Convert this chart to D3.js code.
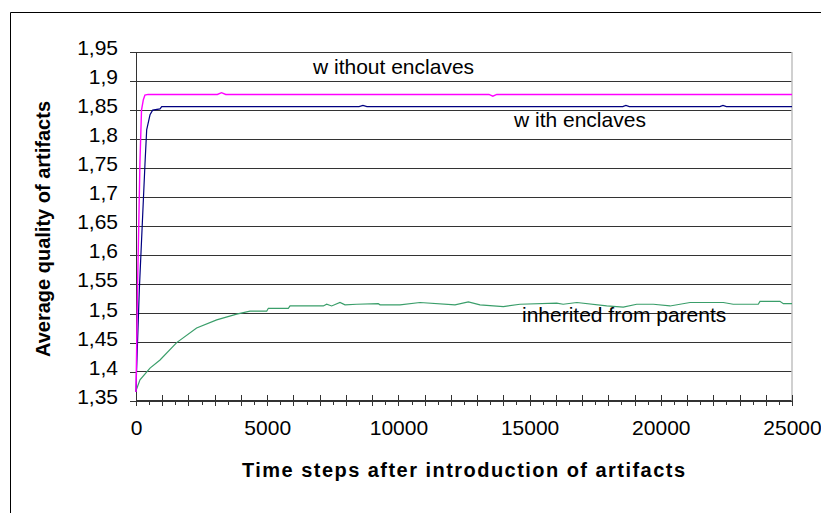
<!DOCTYPE html>
<html>
<head>
<meta charset="utf-8">
<script src="https://cdn.jsdelivr.net/npm/d3@7"></script>
<style>
  body { margin: 0; background: #fff; }
  svg { display: block; font-family: Arial, "Liberation Sans", sans-serif; }
  .tick text { font-size: 21px; fill: #000; }
</style>
</head>
<body>
<div class="chart"></div>
<script>
// values
var yTicks = [1.35, 1.4, 1.45, 1.5, 1.55, 1.6, 1.65, 1.7, 1.75, 1.8, 1.85, 1.9, 1.95];
var xLabelTicks = [0, 5000, 10000, 15000, 20000, 25000];

var timeWithout = [0, 60, 100, 150, 210, 280, 340, 460, 3100, 3260, 3420, 13450, 13600, 13750, 25000];
var valWithout = [1.365, 1.55, 1.64, 1.76, 1.85, 1.868, 1.876, 1.877, 1.877, 1.880, 1.877, 1.877, 1.874, 1.877, 1.877];

var timeWith = [0, 20, 126, 343, 407, 534, 636, 915, 980, 8500, 8650, 8800, 18550, 18670, 18800, 22250, 22370, 22500, 25000];
var valWith = [1.365, 1.40, 1.54, 1.758, 1.816, 1.842, 1.850, 1.852, 1.856, 1.856, 1.858, 1.856, 1.856, 1.858, 1.856, 1.856, 1.858, 1.856, 1.856];

var timeParents = [0, 152, 534, 915, 1550, 2310, 3075, 3836, 4345, 4980, 5043, 5805, 5870, 7140, 7266, 7456, 7774, 7965, 8410, 9235, 9300,
  10060, 10823, 12157, 12665, 13110, 14000, 14634, 16032, 16280, 16800, 17938, 18570, 19080, 19716, 20350, 21113, 22383, 22760, 23714, 23780, 24540, 24670, 25000];
var valParents = [1.367, 1.386, 1.406, 1.420, 1.450, 1.475, 1.489, 1.499, 1.504, 1.504, 1.509, 1.509, 1.513, 1.513, 1.516, 1.513, 1.519, 1.515, 1.516, 1.517, 1.515,
  1.515, 1.519, 1.515, 1.520, 1.515, 1.512, 1.516, 1.518, 1.516, 1.519, 1.513, 1.511, 1.516, 1.516, 1.513, 1.519, 1.519, 1.516, 1.516, 1.521, 1.521, 1.517, 1.517];

var seriesNames = ["w ithout enclaves", "w ith enclaves", "inherited from parents"];

var W = 821, H = 515;
var margin = {top: 52, right: 29, bottom: 114.3, left: 136};
var width = W - margin.left - margin.right,
    height = H - margin.top - margin.bottom;

var svg = d3.select(".chart").append("svg")
    .attr("width", W)
    .attr("height", H);

// outer frame (left and top edges only show)
svg.append("path")
    .attr("d", "M10.5,513V12.5H821")
    .attr("fill", "none")
    .attr("stroke", "#000")
    .attr("stroke-width", 1);

var g = svg.append("g")
    .attr("transform", "translate(" + margin.left + "," + margin.top + ")");

var xScale = d3.scaleLinear().domain([0, 25000]).range([0, width]);
var yScale = d3.scaleLinear().domain([1.35, 1.95]).range([height, 0]);

// gridlines
g.append("g")
    .selectAll("line")
    .data(yTicks)
    .enter().append("line")
    .attr("x1", 0)
    .attr("x2", width)
    .attr("y1", d => yScale(d))
    .attr("y2", d => yScale(d))
    .attr("stroke", "#333")
    .attr("shape-rendering", "crispEdges");

// right edge of plot area
g.append("line")
    .attr("x1", width).attr("x2", width)
    .attr("y1", 0).attr("y2", height)
    .attr("stroke", "#c0c0c0")
    .attr("stroke-width", 1.5);

// y axis
var yAxis = d3.axisLeft(yScale)
    .tickValues(yTicks)
    .tickSize(6)
    .tickPadding(12)
    .tickFormat(d => d3.format(".2~f")(d).replace(".", ","));

var yAxisGroup = g.append("g").call(yAxis);
yAxisGroup.select(".domain").attr("stroke", "#333").attr("shape-rendering", "crispEdges");
yAxisGroup.selectAll(".tick line").attr("stroke", "#333").attr("shape-rendering", "crispEdges");
yAxisGroup.selectAll(".tick text").attr("dy", "0.12em");

// x axis: minor ticks every 500, major every 1000
var minorTicks = d3.range(500, 25000, 1000);
var majorTicks = d3.range(0, 25001, 1000);

var xMinor = g.append("g")
    .attr("transform", "translate(0," + height + ")")
    .call(d3.axisBottom(xScale).tickValues(minorTicks).tickSize(4).tickFormat(""));
xMinor.select(".domain").remove();

var xAxisGroup = g.append("g")
    .attr("transform", "translate(0," + height + ")")
    .call(d3.axisBottom(xScale)
        .tickValues(majorTicks)
        .tickSizeOuter(0)
        .tickSize(5)
        .tickFormat(d => xLabelTicks.indexOf(d) >= 0 ? d : ""));
xAxisGroup.select(".domain").attr("stroke", "#333").attr("shape-rendering", "crispEdges");
xAxisGroup.selectAll(".tick line").attr("y1", -6);
xAxisGroup.selectAll(".tick text").attr("y", 19.5);
g.selectAll(".tick line").attr("stroke", "#333").attr("shape-rendering", "crispEdges");

// series
var line = d3.line()
    .x(d => xScale(d[0]))
    .y(d => yScale(d[1]));

var series = [
    {t: timeParents, v: valParents, color: "#3a9e6a", w: 1.2},
    {t: timeWith, v: valWith, color: "#000080", w: 1.2},
    {t: timeWithout, v: valWithout, color: "#ff00ff", w: 1.4}
];

series.forEach(function(s) {
    g.append("path")
        .datum(d3.zip(s.t, s.v))
        .attr("fill", "none")
        .attr("stroke", s.color)
        .attr("stroke-width", s.w)
        .attr("d", line);
});

// series labels, anchored in data units
var labelAnchors = [[6745, 1.912], [14405, 1.8205], [14710, 1.485]];

g.append("g")
    .selectAll("text")
    .data(seriesNames)
    .enter().append("text")
    .attr("x", (d, i) => xScale(labelAnchors[i][0]))
    .attr("y", (d, i) => yScale(labelAnchors[i][1]))
    .attr("font-size", 21)
    .attr("fill", "#000")
    .text(d => d);

// axis titles
svg.append("text")
    .attr("x", 242)
    .attr("y", 477)
    .attr("font-size", 20)
    .attr("font-weight", "bold")
    .attr("textLength", 443)
    .attr("lengthAdjust", "spacing")
    .text("Time steps after introduction of artifacts");

svg.append("text")
    .attr("transform", "translate(50,229) rotate(-90)")
    .attr("text-anchor", "middle")
    .attr("font-size", 20)
    .attr("font-weight", "bold")
    .text("Average quality of artifacts");
</script>
</body>
</html>
